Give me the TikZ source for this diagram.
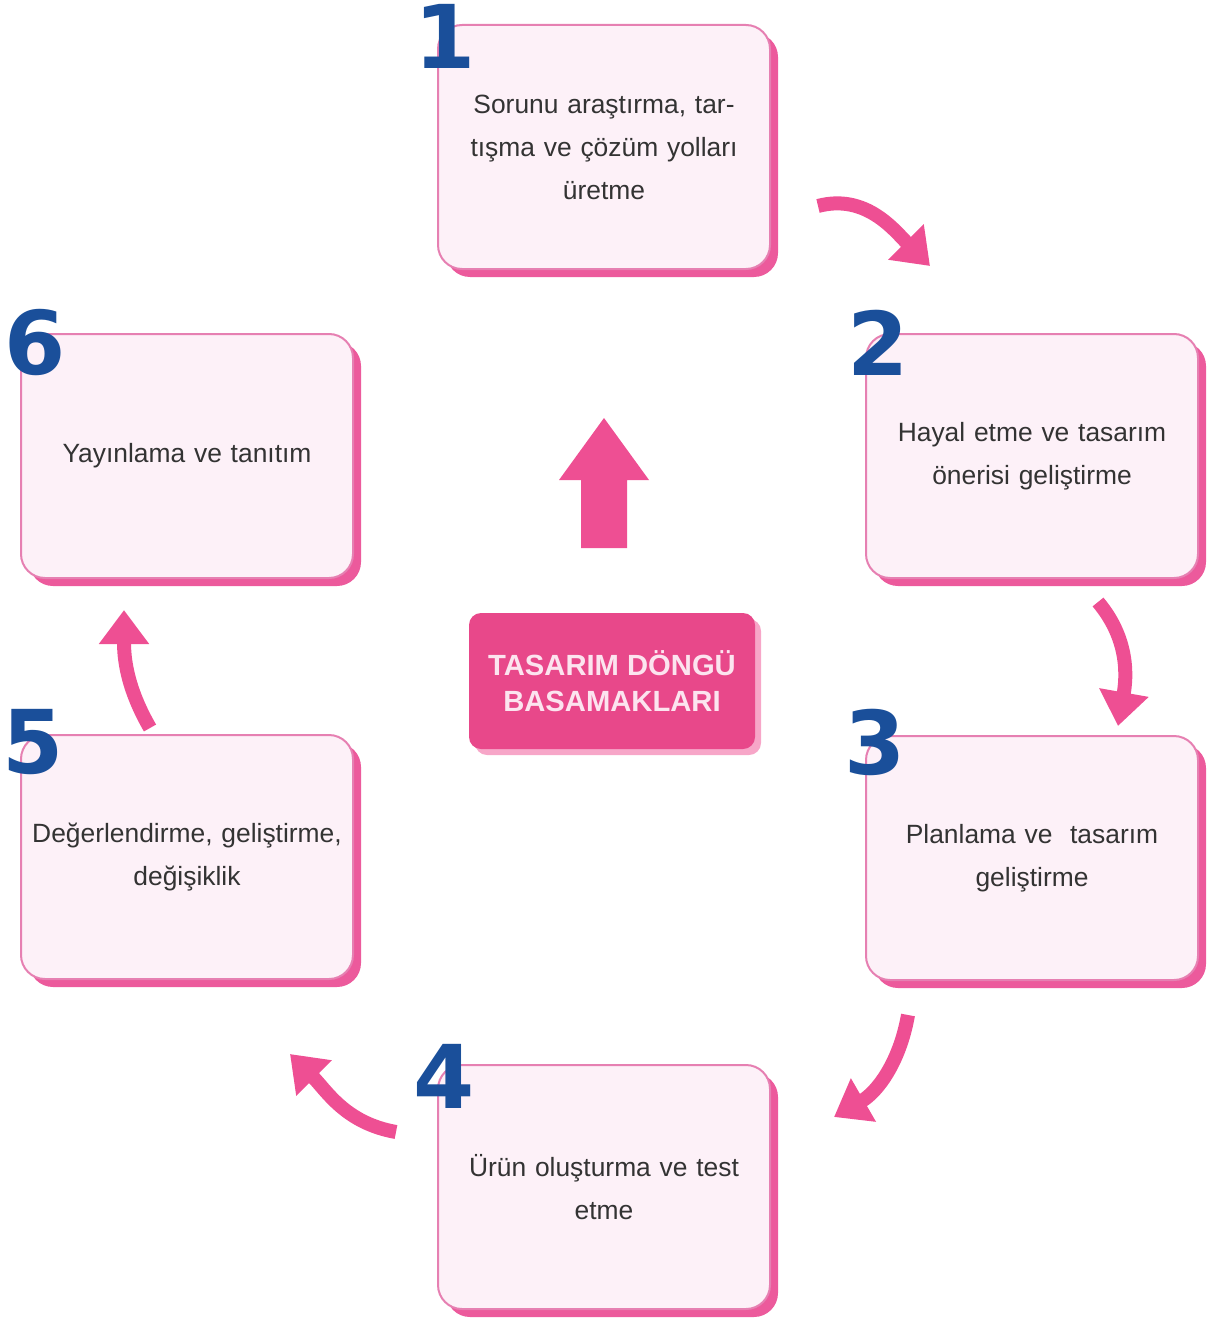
\documentclass[tikz,border=0pt]{standalone}
\usepackage{fontspec}
\setmainfont{Liberation Sans}
\newfontfamily\numfont{DejaVu Sans}
\usetikzlibrary{arrows.meta,shadows}
\definecolor{boxfill}{HTML}{FDF1F8}
\definecolor{boxline}{HTML}{E680B2}
\definecolor{shadowpink}{HTML}{EC5A9C}
\definecolor{arrowpink}{HTML}{EE4F93}
\definecolor{centerpink}{HTML}{E8488A}
\definecolor{centershadow}{HTML}{F7A6C8}
\definecolor{centertext}{HTML}{FCE4EF}
\definecolor{numblue}{HTML}{1A4F9A}
\definecolor{txtgray}{HTML}{333333}
\begin{document}
\begin{tikzpicture}[x=0.5pt,y=-0.5pt,
  stepbox/.style={draw=boxline, line width=1pt, fill=boxfill, rounded corners=12pt,
    minimum width=166pt, minimum height=122pt, align=center, text width=156pt, inner xsep=5pt,
    text=txtgray, font=\fontsize{13.2}{21.5}\selectfont,
    drop shadow={shadow xshift=4pt, shadow yshift=-4pt, fill=shadowpink, opacity=1}},
  numlabel/.style={font=\numfont\bfseries\fontsize{44}{44}\selectfont, text=numblue, inner sep=0pt},
  cyclearrow/.style={draw=arrowpink, line width=7pt, -{Triangle[length=17pt,width=24pt]}},
  centerbox/.style={fill=centerpink, rounded corners=6pt, minimum width=143pt, minimum height=68pt,
    align=center, text=centertext, font=\bfseries\fontsize{14.6}{18}\selectfont,
    drop shadow={shadow xshift=3pt, shadow yshift=-3pt, fill=centershadow, opacity=1}}
]
\useasboundingbox (0,0) rectangle (1212,1321);

% step boxes
\node[stepbox] (b1) at (604,147) {Sorunu araştırma, tar-\\tışma ve çözüm yolları\\üretme};
\node[stepbox] (b2) at (1032,456) {Hayal etme ve tasarım\\önerisi geliştirme};
\node[stepbox] (b3) at (1032,858) {Planlama ve\ \ tasarım\\geliştirme};
\node[stepbox] (b4) at (604,1187) {Ürün oluşturma ve test\\etme};
\node[stepbox] (b5) at (187,857) {Değerlendirme, geliştirme,\\değişiklik};
\node[stepbox] (b6) at (187,456) {Yayınlama ve tanıtım};

% numbers
\node[numlabel] (n1) at (445,36) {1};
\node[numlabel] (n2) at (878,343) {2};
\node[numlabel] (n3) at (875,742) {3};
\node[numlabel] (n4) at (444,1076) {4};
\node[numlabel] (n5) at (33,742) {5};
\node[numlabel] (n6) at (35,343) {6};

% center box
\node[centerbox] (c) at (612,681) {TASARIM DÖNGÜ\\BASAMAKLARI};

% up arrow
\coordinate (ua) at (604,548);
\fill[arrowpink] (ua) ++(-23,0) -- ++(0,-68) -- ++(-22,0) -- (604,418) -- (649,480) -- ++(-22,0) -- (627,548) -- cycle;

% cycle arrow end points
\coordinate (a1s) at (818,206);
\coordinate (a1e) at (930,266);
\coordinate (a2s) at (1098,602);
\coordinate (a2e) at (1118,726);
\coordinate (a3s) at (908,1015);
\coordinate (a3e) at (834,1117);
\coordinate (a4s) at (396,1132);
\coordinate (a4e) at (290,1054);
\coordinate (a5s) at (150,728);
\coordinate (a5e) at (124,610);

\draw[cyclearrow] (a1s) to[out=15, in=135] (a1e);
\draw[cyclearrow] (a2s) to[out=-50, in=80] (a2e);
\draw[cyclearrow] (a3s) to[out=-100, in=30] (a3e);
\draw[cyclearrow] (a4s) to[out=170, in=-45] (a4e);
\draw[cyclearrow] (a5s) to[out=120, in=-90] (a5e);
\end{tikzpicture}
\end{document}
